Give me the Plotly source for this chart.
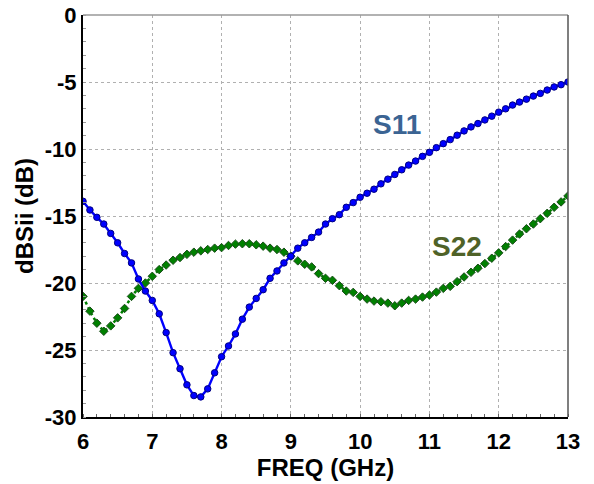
import plotly.graph_objects as go

freq = [round(6 + 0.1 * i, 1) for i in range(71)]

s11 = [-13.9, -14.55, -15.1, -15.6, -16.3, -17.0, -17.8, -18.5, -19.7, -20.6,
       -21.3, -22.3, -23.7, -25.2, -26.4, -27.6, -28.4, -28.5, -27.9, -26.7,
       -25.5, -24.7, -23.8, -22.7, -21.8, -21.15, -20.5, -19.65, -19.1, -18.5,
       -18.0, -17.4, -17.0, -16.6, -16.2, -15.6, -15.2, -14.9, -14.35, -14.0,
       -13.6, -13.3, -13.0, -12.6, -12.25, -11.9, -11.55, -11.2, -10.9, -10.55,
       -10.25, -9.9, -9.6, -9.3, -8.97, -8.65, -8.35, -8.1, -7.83, -7.55,
       -7.25, -7.0, -6.72, -6.5, -6.28, -6.05, -5.85, -5.6, -5.37, -5.2, -5.0]

s22 = [-21.0, -22.1, -23.0, -23.6, -23.2, -22.6, -21.9, -21.0, -20.4, -20.0,
       -19.5, -19.0, -18.66, -18.3, -18.1, -17.86, -17.7, -17.6, -17.5, -17.4,
       -17.36, -17.2, -17.1, -17.07, -17.07, -17.15, -17.25, -17.4, -17.5, -17.7,
       -18.0, -18.35, -18.6, -18.8, -19.3, -19.65, -19.8, -20.2, -20.6, -20.7,
       -21.0, -21.2, -21.35, -21.4, -21.5, -21.7, -21.5, -21.3, -21.2, -21.05,
       -20.9, -20.68, -20.4, -20.25, -19.9, -19.55, -19.2, -18.9, -18.55, -18.15,
       -17.75, -17.28, -16.8, -16.35, -15.95, -15.6, -15.2, -14.8, -14.35, -13.95, -13.5]

x_ticks = [6, 7, 8, 9, 10, 11, 12, 13]
y_ticks = [0, -5, -10, -15, -20, -25, -30]

FONT = "Liberation Sans, Arial, sans-serif"

fig = go.Figure()
fig.add_trace(go.Scatter(
    x=freq, y=s22, mode="lines+markers", name="S22",
    line=dict(color="#008000", width=2.5, dash="dot"),
    marker=dict(symbol="diamond", size=6.5, color="#008000",
                line=dict(color="#1a4d1a", width=1)),
))
fig.add_trace(go.Scatter(
    x=freq, y=s11, mode="lines+markers", name="S11",
    line=dict(color="#0000ff", width=2.4),
    marker=dict(symbol="circle", size=6.5, color="#0000ff",
                line=dict(color="#000080", width=1)),
))

fig.add_annotation(x=10.53, y=-8.2, text="<b>S11</b>", showarrow=False,
                   font=dict(family=FONT, size=28, color="#3b6493"))
fig.add_annotation(x=11.4, y=-17.3, text="<b>S22</b>", showarrow=False,
                   font=dict(family=FONT, size=28, color="#4f6228"))

title_font = dict(family=FONT, size=24, color="black")
tick_font = dict(family=FONT, size=22, color="black")

fig.update_layout(
    width=594, height=484,
    margin=dict(l=83, r=26, t=15, b=67),
    paper_bgcolor="white", plot_bgcolor="white",
    showlegend=False,
    xaxis=dict(
        range=[6, 13], tickvals=x_ticks, ticktext=[f"<b>{v}</b>" for v in x_ticks],
        showgrid=True, gridcolor="#b0b0b0", griddash="dot", gridwidth=1,
        showline=True, linecolor="black", linewidth=2,
        ticks="", zeroline=False, automargin=False,
        ticklabelstandoff=4, ticklabeloverflow="allow",
        title=dict(text="<b>FREQ (GHz)</b>", font=title_font, standoff=0),
        minor=dict(dtick=0.2, ticks="inside", ticklen=3, tickcolor="#666", showgrid=False),
        tickfont=tick_font,
    ),
    yaxis=dict(
        range=[-30, 0], tickvals=y_ticks, ticktext=[f"<b>{v}</b>" for v in y_ticks],
        showgrid=True, gridcolor="#b0b0b0", griddash="dot", gridwidth=1,
        showline=True, linecolor="black", linewidth=2,
        ticks="", zeroline=False, automargin=False,
        ticklabeloverflow="allow",
        title=dict(text="<b>dBSii (dB)</b>", font=title_font, standoff=4),
        minor=dict(dtick=1, ticks="inside", ticklen=3, tickcolor="#999", showgrid=False),
        tickfont=tick_font,
    ),
    shapes=[
        dict(type="line", xref="paper", yref="paper", x0=0, x1=1, y0=1, y1=1,
             line=dict(color="#999999", width=1.5)),
        dict(type="line", xref="paper", yref="paper", x0=1, x1=1, y0=0, y1=1,
             line=dict(color="#555555", width=1.5)),
    ],
)

fig.write_html("out.html", config={"displayModeBar": False},
               post_script="document.body.style.margin='0';")
